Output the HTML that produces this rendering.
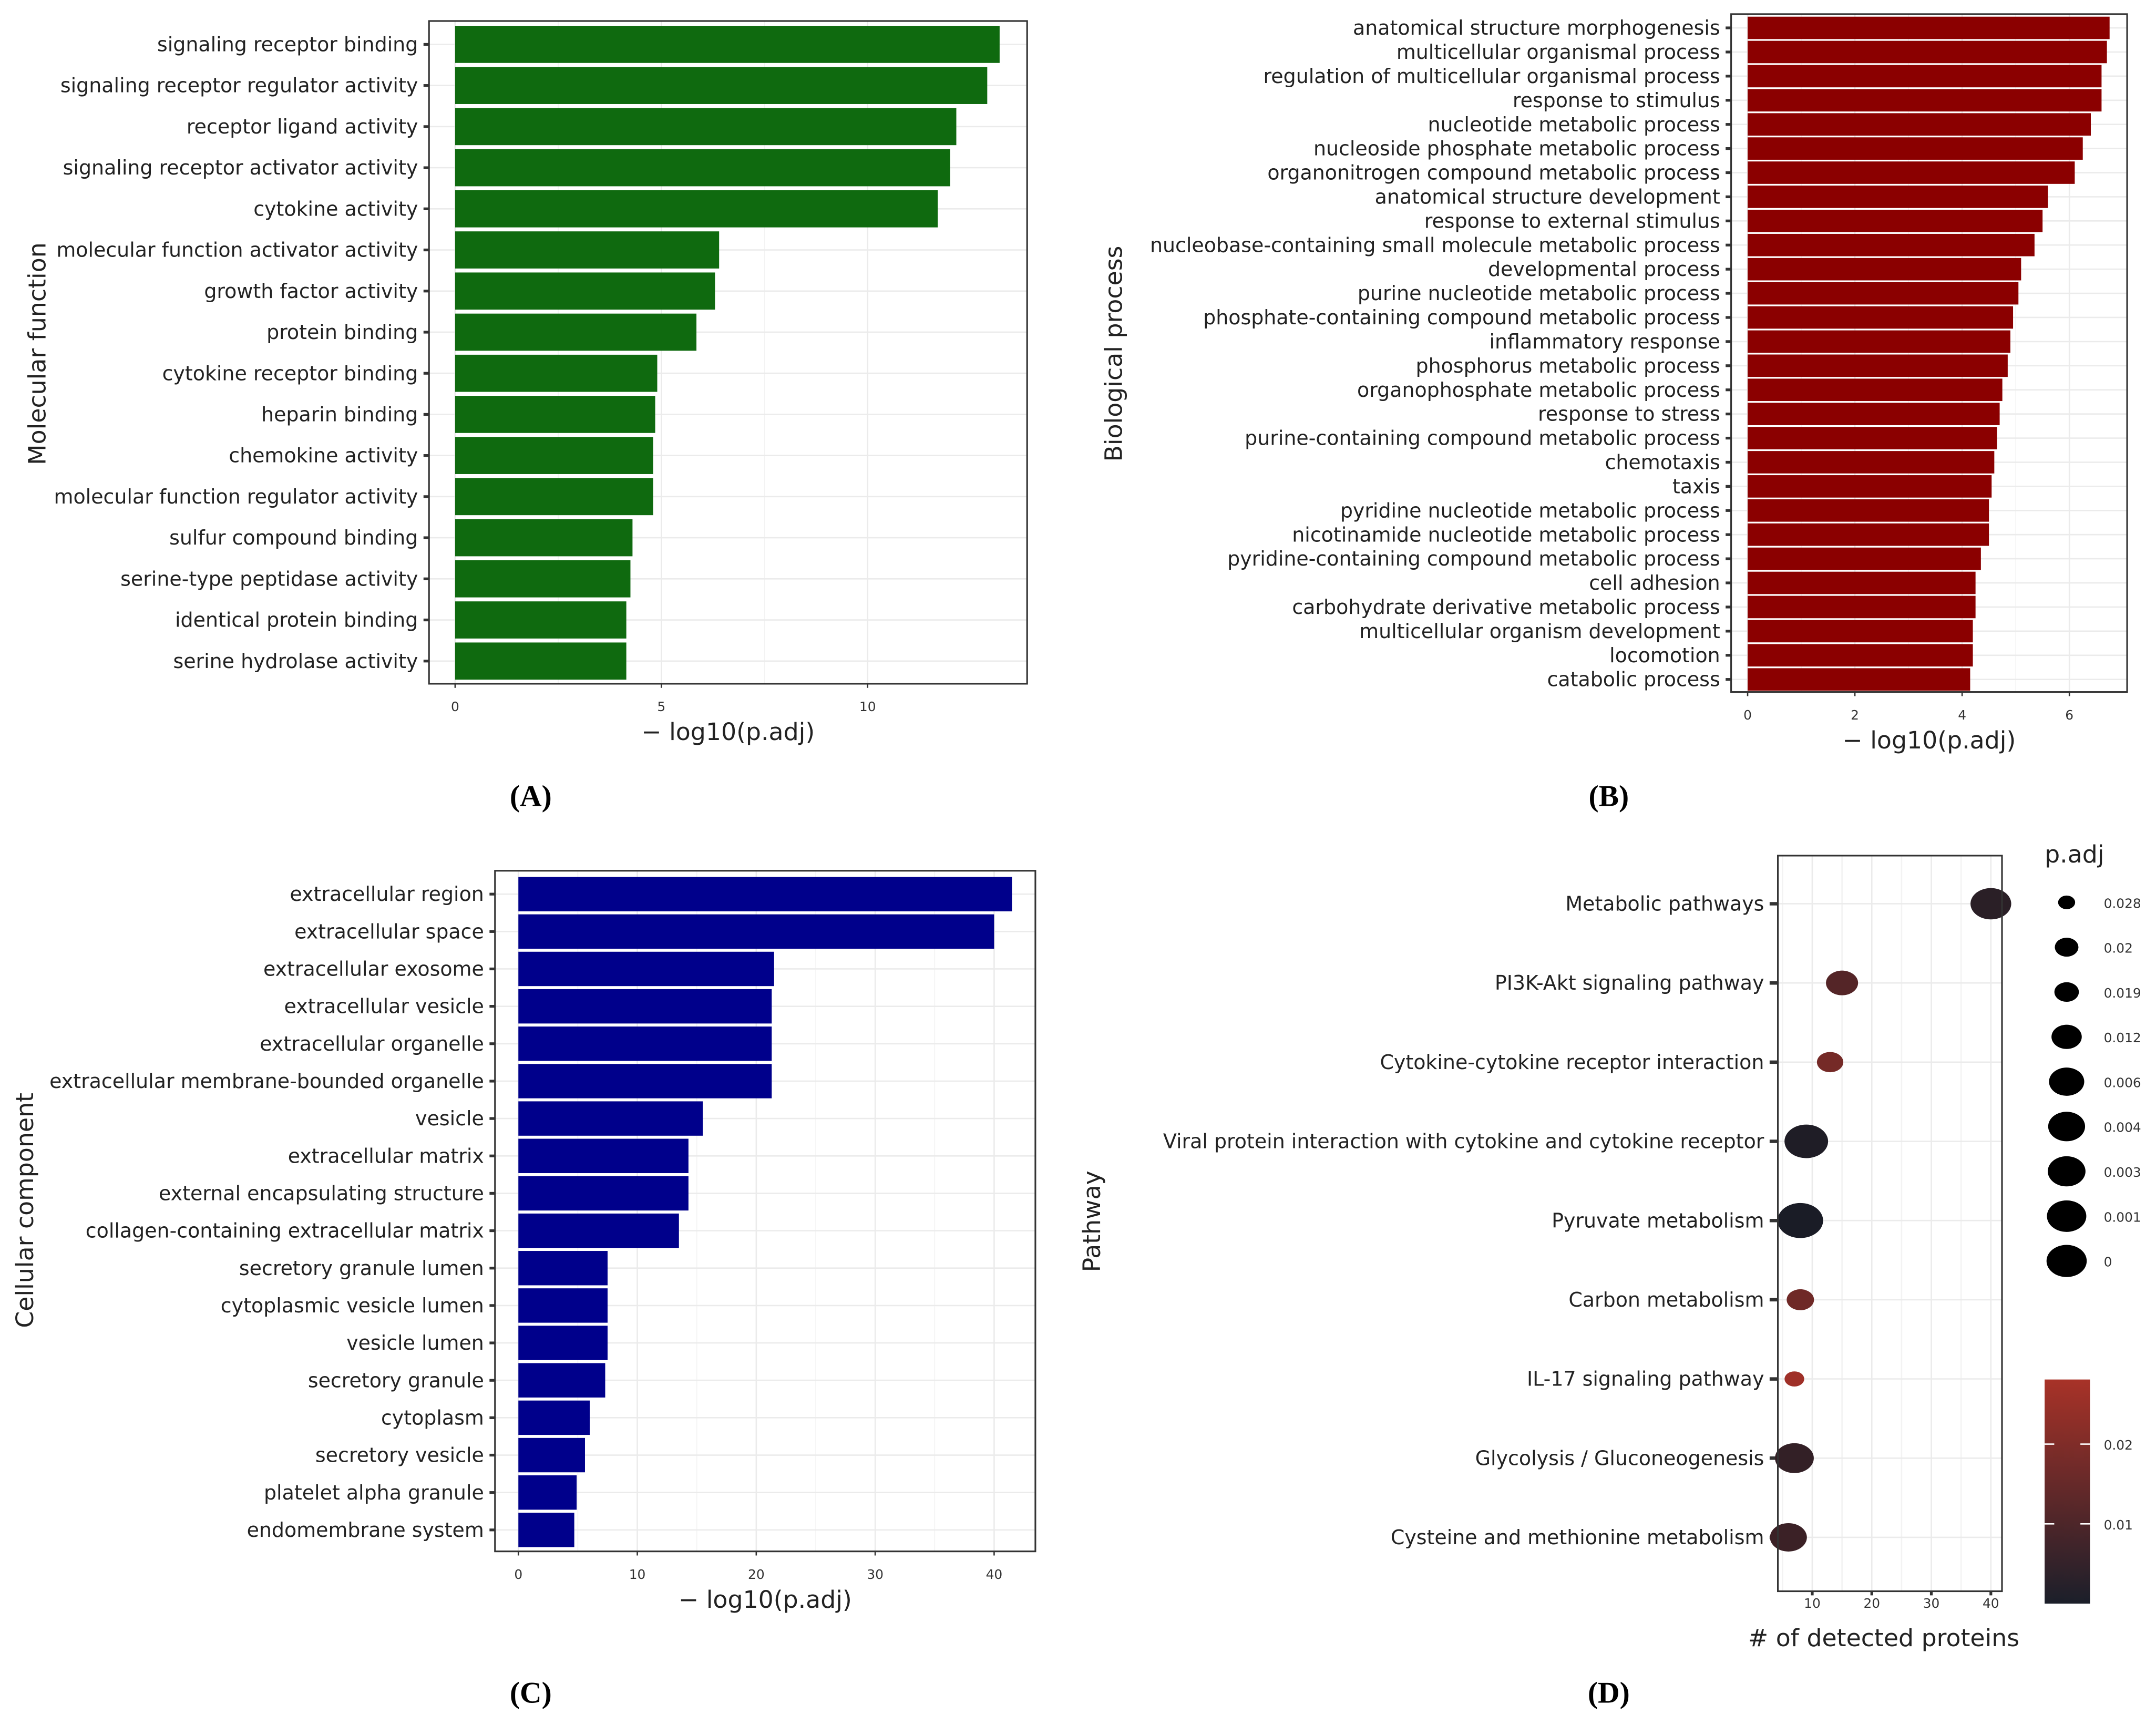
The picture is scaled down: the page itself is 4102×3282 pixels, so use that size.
<!DOCTYPE html>
<html><head><meta charset="utf-8"><style>
html,body{margin:0;padding:0;background:#fff}
svg{display:block}
text{font-family:"DejaVu Sans","Liberation Sans",sans-serif;fill:#222}
.lab{font-size:14.5px}
.tick{font-size:9.5px;fill:#333}
.ttl{font-size:17.5px}
.pl{font-family:"Liberation Serif",serif;font-size:22px;fill:#000;font-weight:bold}
</style></head><body>
<svg id="s" width="4102" height="3282" viewBox="0 0 1568 1254" xmlns="http://www.w3.org/2000/svg"></svg>
<script>
const mfCats=["signaling receptor binding","signaling receptor regulator activity","receptor ligand activity","signaling receptor activator activity","cytokine activity","molecular function activator activity","growth factor activity","protein binding","cytokine receptor binding","heparin binding","chemokine activity","molecular function regulator activity","sulfur compound binding","serine-type peptidase activity","identical protein binding","serine hydrolase activity"];
const mfVals=[13.2,12.9,12.15,12.0,11.7,6.4,6.3,5.85,4.9,4.85,4.8,4.8,4.3,4.25,4.15,4.15];
const mfTicks=[0,5,10];
const bpCats=["anatomical structure morphogenesis","multicellular organismal process","regulation of multicellular organismal process","response to stimulus","nucleotide metabolic process","nucleoside phosphate metabolic process","organonitrogen compound metabolic process","anatomical structure development","response to external stimulus","nucleobase-containing small molecule metabolic process","developmental process","purine nucleotide metabolic process","phosphate-containing compound metabolic process","inflammatory response","phosphorus metabolic process","organophosphate metabolic process","response to stress","purine-containing compound metabolic process","chemotaxis","taxis","pyridine nucleotide metabolic process","nicotinamide nucleotide metabolic process","pyridine-containing compound metabolic process","cell adhesion","carbohydrate derivative metabolic process","multicellular organism development","locomotion","catabolic process"];
const bpVals=[6.75,6.7,6.6,6.6,6.4,6.25,6.1,5.6,5.5,5.35,5.1,5.05,4.95,4.9,4.85,4.75,4.7,4.65,4.6,4.55,4.5,4.5,4.35,4.25,4.25,4.2,4.2,4.15];
const bpTicks=[0,2,4,6];
const ccCats=["extracellular region","extracellular space","extracellular exosome","extracellular vesicle","extracellular organelle","extracellular membrane-bounded organelle","vesicle","extracellular matrix","external encapsulating structure","collagen-containing extracellular matrix","secretory granule lumen","cytoplasmic vesicle lumen","vesicle lumen","secretory granule","cytoplasm","secretory vesicle","platelet alpha granule","endomembrane system"];
const ccVals=[41.5,40,21.5,21.3,21.3,21.3,15.5,14.3,14.3,13.5,7.5,7.5,7.5,7.3,6,5.6,4.9,4.7];
const ccTicks=[0,10,20,30,40];
const kgCats=["Metabolic pathways","PI3K-Akt signaling pathway","Cytokine-cytokine receptor interaction","Viral protein interaction with cytokine and cytokine receptor","Pyruvate metabolism","Carbon metabolism","IL-17 signaling pathway","Glycolysis / Gluconeogenesis","Cysteine and methionine metabolism"];
const kgCounts=[40,15,13,9,8,8,7,7,6];
const kgPadj=[0.006,0.015,0.021,0.003,0.001,0.02,0.028,0.008,0.01];
const kgTicks=[10,20,30,40];
const sizeLegend=[0.028,0.02,0.019,0.012,0.006,0.004,0.003,0.001,0];
const colorTicks=[0.02,0.01];

const S=document.getElementById('s');const NS="http://www.w3.org/2000/svg";
function el(t,a,txt){const e=document.createElementNS(NS,t);for(const k in a)e.setAttribute(k,a[k]);if(txt!==undefined)e.textContent=txt;S.appendChild(e);return e;}
function col(p){const t=Math.min(1,p/0.03);const a=[24,28,38],b=[172,50,40];const tt=Math.pow(t,1.3);return `rgb(${a.map((v,i)=>Math.round(v+(b[i]-v)*tt)).join(',')})`;}

function barPanel(o){
 const {x0,x1,y0,y1,zx,pxu,c0,step,h,cats,vals,ticks,color,name,title,tx,ty,lx,ly,letter,lfs}=o;
 const X=v=>zx+v*pxu, Y=i=>c0+i*step;
 el('rect',{x:x0,y:y0,width:x1-x0,height:y1-y0,fill:'#fff'});
 for(let i=0;i<ticks.length;i++){const m=X(ticks[i]);const e=el('line',{x1:m,x2:m,y1:y0,y2:y1,stroke:'#ebebeb','stroke-width':1});
  if(i<ticks.length-1){const mm=X((ticks[i]+ticks[i+1])/2);el('line',{x1:mm,x2:mm,y1:y0,y2:y1,stroke:'#f3f3f3','stroke-width':0.6});}}
 cats.forEach((c,i)=>{el('line',{x1:x0,x2:x1,y1:Y(i),y2:Y(i),stroke:'#ebebeb','stroke-width':1});});
 cats.forEach((c,i)=>{
  const r=el('rect',{x:X(0),y:Y(i)-h/2,width:X(vals[i])-X(0),height:h,fill:color});
  
  
  el('line',{x1:x0-4,x2:x0,y1:Y(i),y2:Y(i),stroke:'#333','stroke-width':2});
  const t=el('text',{x:x0-8,y:Y(i)+5,'text-anchor':'end',class:'lab','font-size':lfs},c);
  
  
 });
 el('rect',{x:x0,y:y0,width:x1-x0,height:y1-y0,fill:'none',stroke:'#333','stroke-width':1.2});
 ticks.forEach(v=>{el('line',{x1:X(v),x2:X(v),y1:y1,y2:y1+3,stroke:'#333'});
  const t=el('text',{x:X(v),y:y1+20,'text-anchor':'middle',class:'tick'},v);
  
  });
 const xt=el('text',{x:(x0+x1)/2,y:y1+41,'text-anchor':'middle',class:'ttl'},'− log10(p.adj)');
 
 const yt=el('text',{x:tx,y:ty,'text-anchor':'middle',class:'ttl',transform:`rotate(-90 ${tx} ${ty})`},title);
 
 const pl=el('text',{x:lx,y:ly,'text-anchor':'middle',class:'pl'},letter);
 
}
barPanel({x0:312,x1:747,y0:15,y1:497,zx:331,pxu:30,c0:32,step:29.9,h:27,cats:mfCats,vals:mfVals,ticks:mfTicks,color:'#0f6a0f',name:'mf',title:'Molecular function',tx:33,ty:257,lx:386,ly:586,letter:'(A)',lfs:14.6});
barPanel({x0:1259,x1:1547,y0:10,y1:503,zx:1271,pxu:39,c0:20,step:17.55,h:16.3,cats:bpCats,vals:bpVals,ticks:bpTicks,color:'#8b0000',name:'bp',title:'Biological process',tx:816,ty:257,lx:1170,ly:586,letter:'(B)',lfs:14.6});
barPanel({x0:360,x1:753,y0:633,y1:1128,zx:377,pxu:8.65,c0:650,step:27.2,h:25,cats:ccCats,vals:ccVals,ticks:ccTicks,color:'#00008b',name:'cc',title:'Cellular component',tx:24,ty:880,lx:386,ly:1238,letter:'(C)',lfs:14.9});
(function(){
 const x0=1293,x1=1456,y0=622,y1=1157;const X=v=>1318+(v-10)*4.33;const Y=i=>657+i*57.6;
 const R=p=>13-p/0.028*7.5;
 [5,10,15,20,25,30,35,40].forEach(v=>el('line',{x1:X(v),x2:X(v),y1:y0,y2:y1,stroke:v%10?'#f3f3f3':'#ebebeb'}));
 kgCats.forEach((c,i)=>{el('line',{x1:x0,x2:x1,y1:Y(i),y2:Y(i),stroke:'#ebebeb'});
  el('line',{x1:x0-6,x2:x0,y1:Y(i),y2:Y(i),stroke:'#333','stroke-width':2.5});
  const t=el('text',{x:x0-10,y:Y(i)+5,'text-anchor':'end',class:'lab','font-size':15.3},c);
  
  const d=el('ellipse',{cx:X(kgCounts[i]),cy:Y(i),rx:R(kgPadj[i])*1.3,ry:R(kgPadj[i]),fill:col(kgPadj[i])});
  
  
 });
 el('rect',{x:x0,y:y0,width:x1-x0,height:y1-y0,fill:'none',stroke:'#333','stroke-width':1.2});
 kgTicks.forEach(v=>{el('line',{x1:X(v),x2:X(v),y1:y1,y2:y1+3,stroke:'#333','stroke-width':2});
  const t=el('text',{x:X(v),y:y1+12,'text-anchor':'middle',class:'tick'},v);
  });
 const xt=el('text',{x:1370,y:1197,'text-anchor':'middle',class:'ttl','font-size':19.5},'# of detected proteins');
 
 const yt=el('text',{x:800,y:888,'text-anchor':'middle',class:'ttl','font-size':18,transform:'rotate(-90 800 888)'},'Pathway');
 
 const lt=el('text',{x:1487,y:627,class:'ttl','font-size':18},'p.adj');
 
 sizeLegend.forEach((p,i)=>{const y=656+i*32.6;
  const c=el('ellipse',{cx:1503,cy:y,rx:R(p)*1.25*0.9,ry:R(p)*0.9,fill:'#000'});
  
  const t=el('text',{x:1530,y:y+4,class:'tick','font-size':11},p);
  });
 const g=el('linearGradient',{id:'cg',x1:0,y1:1,x2:0,y2:0});
 [[0,'#1b1f2a'],[1,'#a83228']].forEach(s=>{const st=document.createElementNS(NS,'stop');st.setAttribute('offset',s[0]);st.setAttribute('stop-color',s[1]);g.appendChild(st);});
 const cb=el('rect',{x:1487,y:1003,width:33,height:163,fill:'url(#cg)'});
 
 const CY=p=>1166-p*5800;
 colorTicks.forEach(p=>{el('line',{x1:1487,x2:1494,y1:CY(p),y2:CY(p),stroke:'#fff'});el('line',{x1:1513,x2:1520,y1:CY(p),y2:CY(p),stroke:'#fff'});
  const t=el('text',{x:1530,y:CY(p)+4,class:'tick','font-size':11},p);
  });
 const pl=el('text',{x:1170,y:1238,'text-anchor':'middle',class:'pl'},'(D)');
 
})();
</script>
</body></html>
